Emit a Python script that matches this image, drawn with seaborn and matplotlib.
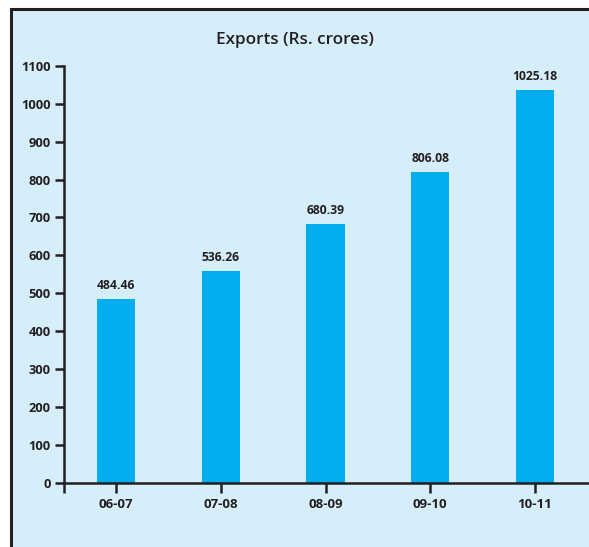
import matplotlib
matplotlib.use("Agg")
import matplotlib.pyplot as plt
import seaborn as sns
from matplotlib.patches import Rectangle

# data
years = ["06-07", "07-08", "08-09", "09-10", "10-11"]
labels = ["484.46", "536.26", "680.39", "806.08", "1025.18"]
bar_heights = [484, 558, 682, 820, 1036]   # heights as drawn in the source
yticks = [0, 100, 200, 300, 400, 500, 600, 700, 800, 900, 1000, 1100]

bg = "#d6edfa"
ink = "#231f20"
bar_col = "#00aeef"

sns.set_style("white")
plt.rcParams["font.family"] = ["Open Sans", "DejaVu Sans"]

fig = plt.figure(figsize=(5.89, 5.47), dpi=100, facecolor="white")

# outer frame (panel cut off on right and bottom)
fig.patches.append(Rectangle((10.5 / 589, -0.1), 1.2, 1.1 - 8.5 / 547,
                             transform=fig.transFigure, facecolor=bg,
                             edgecolor=ink, linewidth=2.2, zorder=-10))

ax = fig.add_axes([64 / 589, 1 - 483 / 547, 1 - 64 / 589, (483 - 65.7) / 547])
ax.set_facecolor("none")

sns.barplot(x=years, y=bar_heights, color=bar_col, saturation=1, width=0.363,
            linewidth=0, edgecolor="none", ax=ax)

ax.bar_label(ax.containers[0], labels=labels, padding=5, fontsize=8.7,
             fontweight="bold", color=ink)

ax.set_xlim(-0.496, 4.515)
ax.set_ylim(0, 1100)
ax.set_yticks(yticks)
ax.set_xlabel("")
ax.set_ylabel("")

# little stub of the y axis below zero
ax.set_xticks([-0.496], minor=True)
ax.tick_params(axis="x", which="both", bottom=True, direction="out", length=7,
               width=1.8, color=ink, labelsize=9.5, labelcolor=ink, pad=4)
ax.tick_params(axis="y", left=True, direction="out", length=6.5, width=1.8,
               color=ink, labelsize=9.3, labelcolor=ink, pad=3)
for t in ax.get_xticklabels() + ax.get_yticklabels():
    t.set_fontweight("bold")

sns.despine(ax=ax, top=True, right=True)
for s in ["left", "bottom"]:
    ax.spines[s].set_color(ink)
    ax.spines[s].set_linewidth(1.8)

fig.text(295 / 589, 1 - 40 / 547, "Exports (Rs. crores)", ha="center", va="center",
         fontsize=12.3, color=ink, fontweight="semibold")

fig.savefig("out.png", dpi=100, facecolor="white")
